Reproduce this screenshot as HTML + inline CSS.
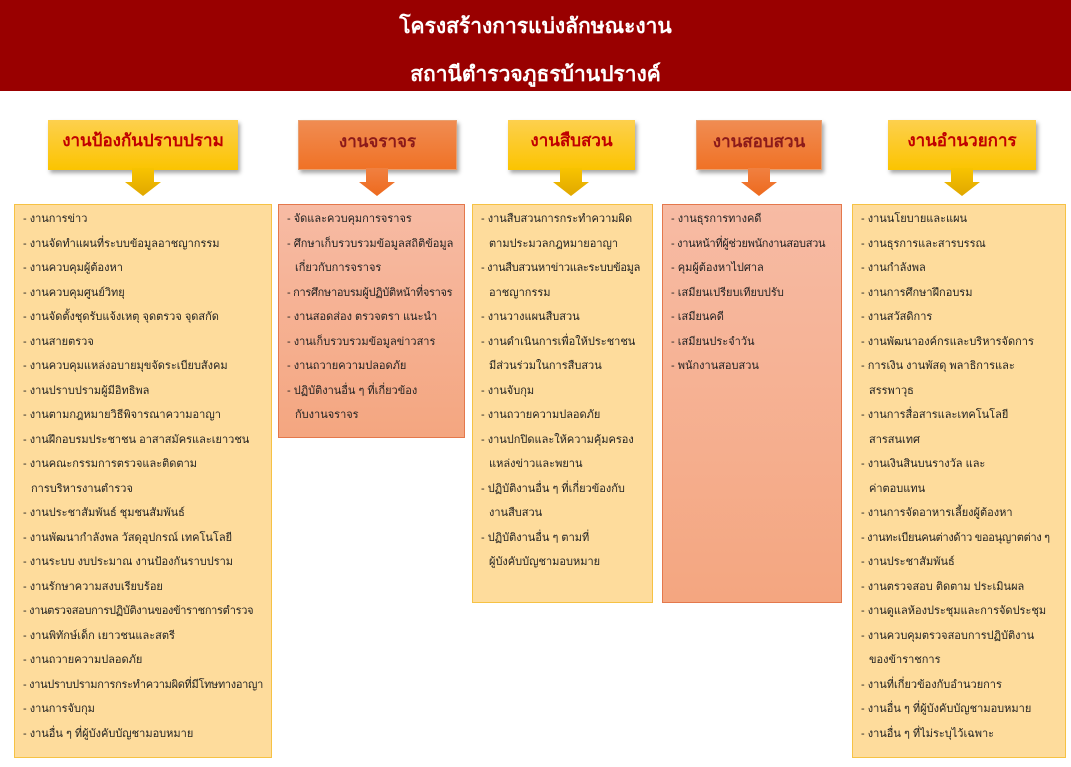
<!DOCTYPE html>
<html><head><meta charset="utf-8">
<style>
*{margin:0;padding:0;box-sizing:border-box}
body{width:1071px;height:767px;background:#fff;position:relative;overflow:hidden;font-family:"Liberation Sans","Noto Sans CJK SC",sans-serif}
.hdr{position:absolute;left:0;top:0;width:1071px;height:91px;background:#990000;color:#fff;text-align:center;font-weight:bold;font-size:21px}
.hdr div{position:absolute;left:0;width:100%}
.h{position:absolute;height:50px;text-align:center;line-height:42px;font-weight:bold;font-size:17px;box-shadow:2px 3px 4px rgba(0,0,0,.35)}
.y{background:linear-gradient(#fdd04e,#fbc400);color:#c00000}
.o{background:linear-gradient(#f08c52,#f07226);color:#8b1a1a;border:1px solid #e8a070}
.ar{position:absolute;width:36px;height:28px}
.bx{position:absolute;top:204px;padding:2px 0 0 8px;font-size:11px;line-height:24.5px;color:#222;white-space:nowrap;overflow:hidden}
.by{background:#fedc9c;border:1.5px solid #f6c244}
.bo{background:linear-gradient(#f7bba4,#f4a680);border:1.5px solid #e4784c}
.ind{padding-left:8px}
.sq{letter-spacing:-0.3px}
</style></head><body>
<div class="hdr"><div style="top:10px">โครงสร้างการแบ่งลักษณะงาน</div><div style="top:58px">สถานีตำรวจภูธรบ้านปรางค์</div></div>

<div class="h y" style="left:48px;top:120px;width:190px">งานป้องกันปราบปราม</div>
<div class="h o" style="left:298px;top:120px;width:159px">งานจราจร</div>
<div class="h y" style="left:508px;top:120px;width:127px">งานสืบสวน</div>
<div class="h o" style="left:696px;top:120px;width:126px">งานสอบสวน</div>
<div class="h y" style="left:888px;top:120px;width:148px">งานอำนวยการ</div>

<svg class="ar" style="left:125px;top:168px" viewBox="0 0 36 28"><defs><linearGradient id="gy" x1="0" y1="0" x2="0" y2="1"><stop offset="0" stop-color="#f8c400"/><stop offset="1" stop-color="#e0a800"/></linearGradient><linearGradient id="go" x1="0" y1="0" x2="0" y2="1"><stop offset="0" stop-color="#f08040"/><stop offset="1" stop-color="#ee6a1e"/></linearGradient></defs><polygon points="7,0 29,0 29,14 36,14 18,28 0,14 7,14" fill="url(#gy)"/></svg>
<svg class="ar" style="left:359px;top:168px" viewBox="0 0 36 28"><polygon points="7,0 29,0 29,14 36,14 18,28 0,14 7,14" fill="url(#go)"/></svg>
<svg class="ar" style="left:553px;top:168px" viewBox="0 0 36 28"><polygon points="7,0 29,0 29,14 36,14 18,28 0,14 7,14" fill="url(#gy)"/></svg>
<svg class="ar" style="left:741px;top:168px" viewBox="0 0 36 28"><polygon points="7,0 29,0 29,14 36,14 18,28 0,14 7,14" fill="url(#go)"/></svg>
<svg class="ar" style="left:944px;top:168px" viewBox="0 0 36 28"><polygon points="7,0 29,0 29,14 36,14 18,28 0,14 7,14" fill="url(#gy)"/></svg>

<div class="bx by" style="left:14px;width:258px;height:554px">
<div>- งานการข่าว</div><div>- งานจัดทำแผนที่ระบบข้อมูลอาชญากรรม</div><div>- งานควบคุมผู้ต้องหา</div><div>- งานควบคุมศูนย์วิทยุ</div><div>- งานจัดตั้งชุดรับแจ้งเหตุ จุดตรวจ จุดสกัด</div><div>- งานสายตรวจ</div><div>- งานควบคุมแหล่งอบายมุขจัดระเบียบสังคม</div><div>- งานปราบปรามผู้มีอิทธิพล</div><div>- งานตามกฎหมายวิธีพิจารณาความอาญา</div><div>- งานฝึกอบรมประชาชน อาสาสมัครและเยาวชน</div><div>- งานคณะกรรมการตรวจและติดตาม</div><div class="ind">การบริหารงานตำรวจ</div><div>- งานประชาสัมพันธ์ ชุมชนสัมพันธ์</div><div>- งานพัฒนากำลังพล วัสดุอุปกรณ์ เทคโนโลยี</div><div>- งานระบบ งบประมาณ งานป้องกันราบปราม</div><div>- งานรักษาความสงบเรียบร้อย</div><div class="sq">- งานตรวจสอบการปฏิบัติงานของข้าราชการตำรวจ</div><div>- งานพิทักษ์เด็ก เยาวชนและสตรี</div><div>- งานถวายความปลอดภัย</div><div class="sq">- งานปราบปรามการกระทำความผิดที่มีโทษทางอาญา</div><div>- งานการจับกุม</div><div>- งานอื่น ๆ ที่ผู้บังคับบัญชามอบหมาย</div>
</div>

<div class="bx bo" style="left:278px;width:187px;height:234px">
<div>- จัดและควบคุมการจราจร</div><div>- ศึกษาเก็บรวบรวมข้อมูลสถิติข้อมูล</div><div class="ind">เกี่ยวกับการจราจร</div><div class="sq">- การศึกษาอบรมผู้ปฏิบัติหน้าที่จราจร</div><div>- งานสอดส่อง ตรวจตรา แนะนำ</div><div>- งานเก็บรวบรวมข้อมูลข่าวสาร</div><div>- งานถวายความปลอดภัย</div><div>- ปฏิบัติงานอื่น ๆ ที่เกี่ยวข้อง</div><div class="ind">กับงานจราจร</div>
</div>

<div class="bx by" style="left:472px;width:181px;height:399px">
<div>- งานสืบสวนการกระทำความผิด</div><div class="ind">ตามประมวลกฎหมายอาญา</div><div class="sq">- งานสืบสวนหาข่าวและระบบข้อมูล</div><div class="ind">อาชญากรรม</div><div>- งานวางแผนสืบสวน</div><div>- งานดำเนินการเพื่อให้ประชาชน</div><div class="ind">มีส่วนร่วมในการสืบสวน</div><div>- งานจับกุม</div><div>- งานถวายความปลอดภัย</div><div>- งานปกปิดและให้ความคุ้มครอง</div><div class="ind">แหล่งข่าวและพยาน</div><div>- ปฏิบัติงานอื่น ๆ ที่เกี่ยวข้องกับ</div><div class="ind">งานสืบสวน</div><div>- ปฏิบัติงานอื่น ๆ ตามที่</div><div class="ind">ผู้บังคับบัญชามอบหมาย</div>
</div>

<div class="bx bo" style="left:662px;width:180px;height:399px">
<div>- งานธุรการทางคดี</div><div class="sq">- งานหน้าที่ผู้ช่วยพนักงานสอบสวน</div><div>- คุมผู้ต้องหาไปศาล</div><div>- เสมียนเปรียบเทียบปรับ</div><div>- เสมียนคดี</div><div>- เสมียนประจำวัน</div><div>- พนักงานสอบสวน</div>
</div>

<div class="bx by" style="left:852px;width:214px;height:554px">
<div>- งานนโยบายและแผน</div><div>- งานธุรการและสารบรรณ</div><div>- งานกำลังพล</div><div>- งานการศึกษาฝึกอบรม</div><div>- งานสวัสดิการ</div><div>- งานพัฒนาองค์กรและบริหารจัดการ</div><div>- การเงิน งานพัสดุ พลาธิการและ</div><div class="ind">สรรพาวุธ</div><div>- งานการสื่อสารและเทคโนโลยี</div><div class="ind">สารสนเทศ</div><div>- งานเงินสินบนรางวัล และ</div><div class="ind">ค่าตอบแทน</div><div>- งานการจัดอาหารเลี้ยงผู้ต้องหา</div><div class="sq">- งานทะเบียนคนต่างด้าว ขออนุญาตต่าง ๆ</div><div>- งานประชาสัมพันธ์</div><div>- งานตรวจสอบ ติดตาม ประเมินผล</div><div>- งานดูแลห้องประชุมและการจัดประชุม</div><div>- งานควบคุมตรวจสอบการปฏิบัติงาน</div><div class="ind">ของข้าราชการ</div><div>- งานที่เกี่ยวข้องกับอำนวยการ</div><div>- งานอื่น ๆ ที่ผู้บังคับบัญชามอบหมาย</div><div>- งานอื่น ๆ ที่ไม่ระบุไว้เฉพาะ</div>
</div>
</body></html>
